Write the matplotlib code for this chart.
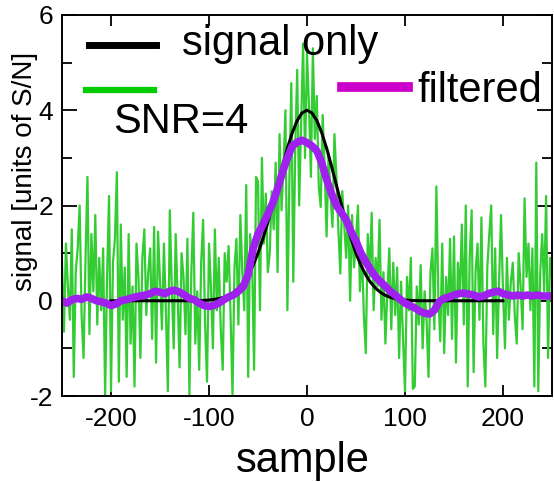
import matplotlib
matplotlib.use('Agg')
import matplotlib.pyplot as plt
import numpy as np
from matplotlib.lines import Line2D
from matplotlib.ticker import MultipleLocator

plt.rcParams['font.family'] = ['Liberation Sans', 'DejaVu Sans']
plt.rcParams['axes.unicode_minus'] = False

# noisy trace (every 2nd sample)
noise_x = np.arange(-250, 251, 2)
noisy = [
    0.8, -0.65, 1.2, 0.3, -0.4, 1.5, -1.6, 0.6, 1.1, 2.0,
    -0.3, -1.2, 0.9, 2.6, -0.7, 1.4, 0.2, 1.8, -0.5, 0.9,
    -0.2, 1.1, -2.0, 0.5, 2.2, -1.9, 0.8, 1.3, 2.7, -1.7,
    1.6, -0.4, 0.7, -1.6, 1.4, -0.9, 0.3, -1.8, 1.2, 0.5,
    -1.2, 0.9, 1.5, -0.3, 0.6, 1.1, -0.8, 1.55, -1.3, 1.45,
    0.4, -0.6, 1.2, -0.2, -1.9, 1.9, 0.3, -1.0, 1.4, 0.1,
    -1.4, 1.0, 0.5, -0.7, 1.3, -2.0, 0.6, 1.85, -0.9, 0.2,
    -1.45, 0.8, 1.7, -0.5, -1.7, 1.2, 0.3, -1.0, 1.5, -0.2,
    0.9, -0.6, -1.45, 1.0, 0.4, 1.15, -0.3, -2.0, 0.7, 1.3,
    -0.5, 1.8, 0.6, -0.2, 2.43, -1.6, 1.4, 0.8, -1.45, 2.6,
    2.5, -0.2, 3.0, 1.2, 2.25, 0.6, 1.0, 2.3, 1.5, 2.9,
    0.6, 3.5, 1.9, 2.8, 4.0, -0.2, 2.5, 4.57, 0.4, 3.2,
    4.85, 2.0, 3.7, 5.4, 3.0, 5.2, 4.1, 2.6, 5.3, 3.4,
    4.3, 2.4, 1.97, 3.9, 2.8, 1.35, 3.1, 2.2, 1.55, 3.5,
    2.6, 1.5, 0.57, 2.3, 1.6, 0.9, 2.0, 0.0, 1.8, 0.7,
    1.3, 2.0, 0.2, 1.1, -0.3, -1.1, 1.4, 0.5, 1.85, -0.2,
    0.9, 0.3, 1.7, -0.4, 0.6, -0.9, 0.2, 1.1, -0.6, 0.8,
    -0.3, 0.7, -1.2, 0.4, -0.8, -1.9, 0.5, -0.2, 0.9, -1.85,
    -1.8, 0.3, -0.5, 0.75, -1.0, 0.2, -0.4, -1.6, 0.6, 1.1,
    -0.6, 2.4, 0.1, -0.85, 1.2, -1.1, 0.5, -0.3, 1.3, -0.8,
    1.35, -1.3, 0.8, 0.1, 1.6, -0.5, 2.0, -1.8, 0.9, 1.9,
    -1.5, 0.6, 1.2, -0.4, 1.75, -0.9, -1.8, 0.7, 1.4, 2.0,
    -0.7, 1.1, -1.2, 0.4, 1.8, 0.2, -1.0, 0.9, -0.4, 0.4,
    0.8, -0.3, -0.9, 1.0, 0.3, -0.6, 2.15, 0.5, 1.2, -0.2,
    1.1, -1.8, 2.9, -1.9, 0.6, 1.4, 0.2, 2.2, -1.2, 0.9,
    0.5,
]

# pure signal, every 5th sample
sig_x = np.arange(-200, 201, 5)
signal = [
    0, 0, 0, 0, 0, 0, 0, 0, 0, 0, 0, 0, 0, 0, 0, 0, 0, 0,
    0.004, 0.008, 0.015, 0.027, 0.044, 0.072, 0.114, 0.176, 0.263, 0.383,
    0.541, 0.745, 0.998, 1.299, 1.644, 2.025, 2.426, 2.827, 3.204, 3.53,
    3.784, 3.945, 4.0,
    3.945, 3.784, 3.53, 3.204, 2.827, 2.426, 2.025, 1.644, 1.299, 0.998,
    0.745, 0.541, 0.383, 0.263, 0.176, 0.114, 0.072, 0.044, 0.027, 0.015,
    0.008, 0.004,
    0, 0, 0, 0, 0, 0, 0, 0, 0, 0, 0, 0, 0, 0, 0, 0, 0, 0,
]

# filtered trace, every 5th sample
filt_x = np.arange(-250, 251, 5)
filtered = [
    0.0, -0.05, 0.02, 0.05, 0.03, 0.08, 0.05, 0.0, -0.02, -0.05,
    -0.1, -0.07, 0.0, 0.02, 0.05, 0.08, 0.1, 0.12, 0.15, 0.2,
    0.18, 0.15, 0.2, 0.22, 0.18, 0.12, 0.05, 0.02, -0.05, -0.1,
    -0.12, -0.1, -0.05, 0.02, 0.08, 0.12, 0.2, 0.3, 0.55, 1.1,
    1.4, 1.6, 1.82, 2.05, 2.35, 2.7, 3.0, 3.25, 3.33, 3.37,
    3.32, 3.25, 3.15, 2.9, 2.55, 2.25, 2.0, 1.85, 1.7, 1.45,
    1.25, 1.0, 0.82, 0.65, 0.5, 0.4, 0.3, 0.2, 0.12, 0.03,
    -0.05, -0.1, -0.15, -0.22, -0.26, -0.28, -0.2, -0.02, 0.05, 0.08,
    0.12, 0.15, 0.16, 0.14, 0.12, 0.08, 0.1, 0.15, 0.18, 0.2,
    0.15, 0.12, 0.1, 0.12, 0.1, 0.12, 0.1, 0.12, 0.1, 0.1,
    0.1,
]

W, H = 554, 482
fig = plt.figure(figsize=(W / 100, H / 100), dpi=100)
ax = fig.add_axes([62 / W, 1 - 396 / H, 490 / W, 381 / H])

ax.plot(noise_x, noisy, color='#33cc33', lw=1.6)
ax.plot(sig_x, signal, color='black', lw=2.2)
ax.plot(filt_x, filtered, color='#a020f0', lw=5.5)

ax.set_xlim(-250, 250)
ax.set_ylim(-2, 6)
ax.xaxis.set_major_locator(MultipleLocator(100))
ax.yaxis.set_major_locator(MultipleLocator(2))
ax.yaxis.set_minor_locator(MultipleLocator(1))
ax.tick_params(axis='both', which='both', direction='in', top=True, right=True,
               labelsize=19, width=1.3)
ax.tick_params(axis='x', which='major', length=8, pad=8)
ax.tick_params(axis='y', which='major', length=11, pad=6.5)
ax.tick_params(axis='y', which='minor', length=7)
for s in ax.spines.values():
    s.set_linewidth(1.4)


def fx(x):
    return x / W


def fy(y):
    return 1 - y / H


# hand-placed legend, like the original
fig.add_artist(Line2D([fx(89), fx(156)], [fy(45), fy(45)], color='black', lw=5))
fig.text(fx(182), fy(55), 'signal only', fontsize=30, va='baseline', ha='left')
fig.add_artist(Line2D([fx(86), fx(154)], [fy(90), fy(90)], color='#00cc00', lw=4.5))
fig.text(fx(113), fy(133), 'SNR=4', fontsize=30, va='baseline', ha='left')
fig.add_artist(Line2D([fx(342), fx(408)], [fy(87), fy(87)], color='#cc00cc', lw=7))
fig.text(fx(417), fy(102), 'filtered', fontsize=30, va='baseline', ha='left')

fig.text(fx(303), fy(472), 'sample', fontsize=30, va='baseline', ha='center')
fig.text(fx(25), fy(171), 'signal [units of S/N]', fontsize=20, rotation=90,
         va='center', ha='center')

fig.savefig('out.png', dpi=100)
